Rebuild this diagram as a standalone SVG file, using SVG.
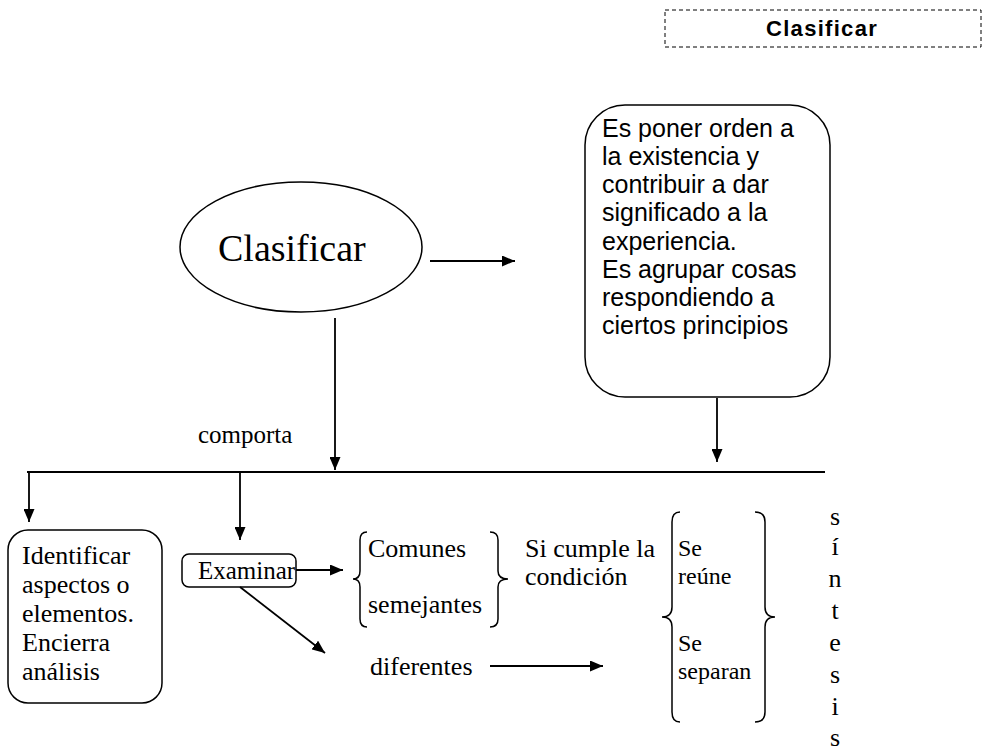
<svg xmlns="http://www.w3.org/2000/svg" width="983" height="752" viewBox="0 0 983 752">
<style>
.t{font-family:"Liberation Serif","Times New Roman",serif;font-size:26px;fill:#000}
.a{font-family:"Liberation Sans",Arial,sans-serif;font-size:25px;fill:#000}
.b{font-family:"Liberation Sans",Arial,sans-serif;font-size:22px;font-weight:bold;letter-spacing:1.3px;fill:#000}
.s{fill:none;stroke:#000;stroke-width:1.5}
.c{fill:none;stroke:#000;stroke-width:1.8}
</style>
<defs>
<marker id="ar" markerUnits="userSpaceOnUse" markerWidth="13" markerHeight="11" refX="13" refY="5.5" orient="auto">
<path d="M0,0 L13,5.5 L0,11 z" fill="#000"/>
</marker>
</defs>
<rect width="983" height="752" fill="#fff"/>
<g id="title">
<rect x="665" y="10" width="316" height="37" fill="none" stroke="#000" stroke-width="1" stroke-dasharray="4,3"/>
<text class="b" x="766" y="36">Clasificar</text>
</g>
<g id="n-clasificar">
<ellipse cx="301" cy="247" rx="121" ry="65" class="s"/>
<text class="t" x="218" y="261" style="font-size:38px">Clasificar</text>
</g>
<g id="n-definicion">
<rect x="585" y="105" width="245" height="292" rx="40" class="s"/>
<text class="a" x="602" y="137">Es poner orden a</text>
<text class="a" x="602" y="165">la existencia y</text>
<text class="a" x="602" y="193">contribuir a dar</text>
<text class="a" x="602" y="221">significado a la</text>
<text class="a" x="602" y="250">experiencia.</text>
<text class="a" x="602" y="278">Es agrupar cosas</text>
<text class="a" x="602" y="306">respondiendo a</text>
<text class="a" x="602" y="334">ciertos principios</text>
</g>
<g id="l-comporta">
<text class="t" x="198" y="443" style="font-size:25px">comporta</text>
</g>
<g id="n-identificar">
<rect x="8" y="530" width="154" height="173" rx="20" class="s"/>
<text class="t" x="22" y="564">Identificar</text>
<text class="t" x="22" y="593">aspectos o</text>
<text class="t" x="22" y="622">elementos.</text>
<text class="t" x="22" y="651">Encierra</text>
<text class="t" x="22" y="680">análisis</text>
</g>
<g id="n-examinar">
<rect x="182" y="554" width="114" height="33" rx="7" class="s"/>
<text class="t" x="198" y="579" style="font-size:25px">Examinar</text>
</g>
<g id="n-comunes">
<path class="s" d="M367,532 Q360,532 360,540 L360,571 Q360,579 353,579 Q360,579 360,587 L360,619 Q360,627 367,627"/>
<text class="t" x="368" y="557">Comunes</text>
<text class="t" x="368" y="613">semejantes</text>
<path class="s" d="M490,532 Q498,532 498,540 L498,571 Q498,579 508,579 Q498,579 498,587 L498,619 Q498,627 490,627"/>
</g>
<g id="l-condicion">
<text class="t" x="525" y="557">Si cumple la</text>
<text class="t" x="525" y="585">condición</text>
</g>
<g id="n-diferentes">
<text class="t" x="370" y="675">diferentes</text>
</g>
<g id="n-resultado">
<path class="s" d="M680,512 Q672,512 672,522 L672,607 Q672,617 662,617 Q672,617 672,627 L672,712 Q672,722 680,722"/>
<text class="t" x="678" y="556" style="font-size:24px">Se</text>
<text class="t" x="678" y="584" style="font-size:24px">reúne</text>
<text class="t" x="678" y="651" style="font-size:24px">Se</text>
<text class="t" x="678" y="679" style="font-size:24px">separan</text>
<path class="s" d="M755,512 Q765,512 765,522 L765,607 Q765,617 775,617 Q765,617 765,627 L765,712 Q765,722 755,722"/>
</g>
<g id="n-sintesis" class="t" text-anchor="middle">
<text x="835" y="525">s</text>
<text x="835" y="555">í</text>
<text x="835" y="587">n</text>
<text x="835" y="619">t</text>
<text x="835" y="651">e</text>
<text x="835" y="683">s</text>
<text x="835" y="715">i</text>
<text x="835" y="746">s</text>
</g>
<g id="connectors">
<path class="c" d="M430,261 L515,261" marker-end="url(#ar)"/>
<path class="c" d="M335,318 L335,470" marker-end="url(#ar)"/>
<path class="c" d="M717,398 L717,462" marker-end="url(#ar)"/>
<path class="c" d="M27,472 L825,472" stroke-width="2"/>
<path class="c" d="M29,472 L29,522" marker-end="url(#ar)"/>
<path class="c" d="M240,472 L240,540" marker-end="url(#ar)"/>
<path class="c" d="M296,570 L343,570" marker-end="url(#ar)"/>
<path class="c" d="M240,587 L325,653" marker-end="url(#ar)"/>
<path class="c" d="M490,666 L603,666" marker-end="url(#ar)"/>
</g>
</svg>
